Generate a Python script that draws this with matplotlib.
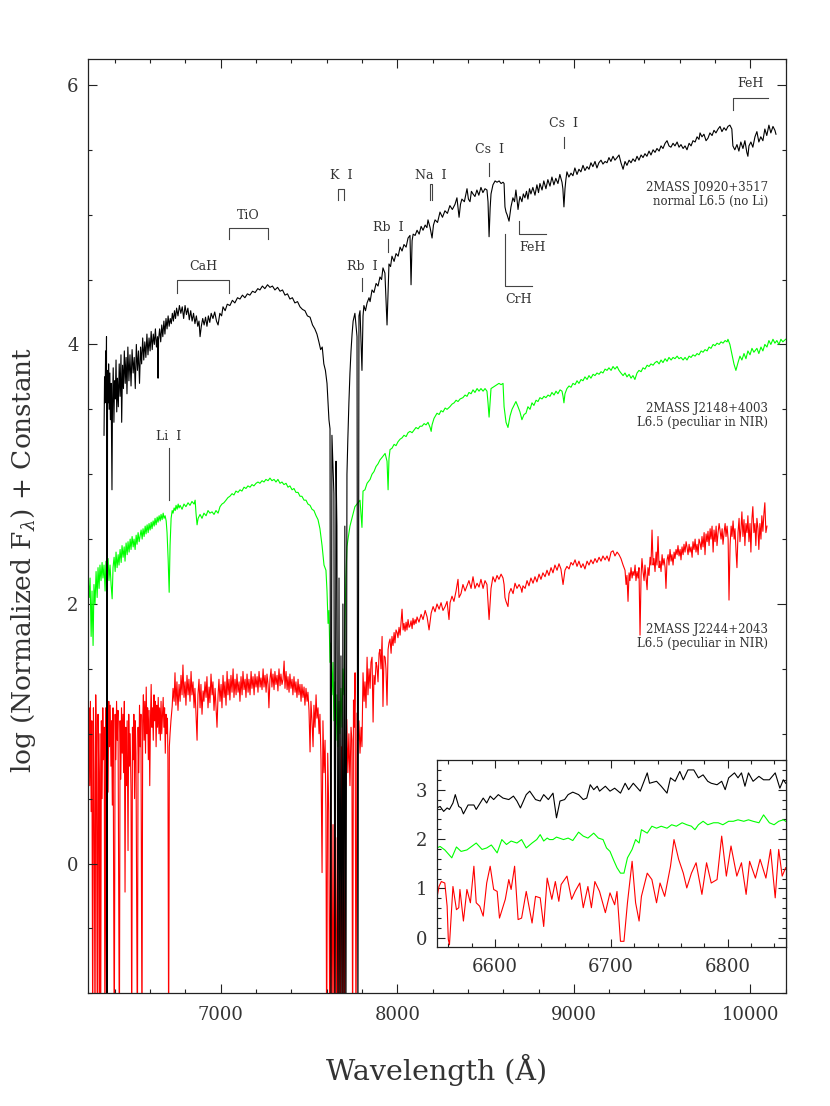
import numpy as np
import matplotlib
matplotlib.use("Agg")
import matplotlib.pyplot as plt
from matplotlib.ticker import MultipleLocator, FixedLocator

plt.rcParams['font.family'] = ['DejaVu Serif']
plt.rcParams['mathtext.fontset'] = 'dejavuserif'

# ---- spectra: (wavelength in A, log flux + offset) ----
black_pts = [
    (6339, 3.30), (6342, 3.75), (6345, 3.55), (6348, 3.95), (6351, 3.70), (6353, 4.06), (6356, -1.50), (6359, 3.80),
    (6362, 3.55), (6365, 3.85), (6368, 3.50), (6372, 3.78), (6375, 3.42), (6379, 3.70), (6384, 2.88), (6387, 3.55),
    (6391, 3.82), (6395, 3.40), (6399, 3.72), (6403, 3.58), (6407, 3.88), (6411, 3.48), (6415, 3.74), (6420, 3.52),
    (6425, 3.85), (6430, 3.60), (6435, 3.92), (6439, 3.40), (6444, 3.84), (6449, 3.66), (6454, 3.95), (6459, 3.70),
    (6464, 3.90), (6469, 3.62), (6474, 3.98), (6480, 3.72), (6486, 3.92), (6492, 3.68), (6498, 3.96), (6504, 3.78),
    (6510, 3.90), (6516, 3.66), (6522, 4.00), (6528, 3.80), (6534, 3.95), (6540, 3.70), (6546, 3.98), (6552, 3.85),
    (6558, 4.05), (6564, 3.88), (6570, 4.02), (6576, 3.90), (6582, 4.08), (6588, 3.92), (6594, 4.05), (6600, 3.95),
    (6606, 4.10), (6612, 3.96), (6618, 4.08), (6624, 4.00), (6630, 4.12), (6636, 3.98), (6642, 4.06), (6645, 3.74),
    (6648, 4.04), (6654, 4.12), (6660, 4.02), (6666, 4.15), (6672, 4.06), (6678, 4.18), (6684, 4.08), (6690, 4.20),
    (6696, 4.12), (6702, 4.22), (6708, 4.14), (6714, 4.20), (6720, 4.16), (6726, 4.24), (6732, 4.18), (6738, 4.26),
    (6744, 4.20), (6750, 4.28), (6758, 4.22), (6766, 4.30), (6774, 4.24), (6782, 4.29), (6790, 4.20), (6798, 4.30),
    (6806, 4.23), (6814, 4.28), (6822, 4.19), (6830, 4.26), (6838, 4.18), (6846, 4.24), (6854, 4.16), (6862, 4.22),
    (6870, 4.14), (6877, 4.18), (6883, 4.06), (6890, 4.14), (6898, 4.20), (6906, 4.15), (6914, 4.21), (6922, 4.14),
    (6930, 4.22), (6938, 4.17), (6946, 4.24), (6956, 4.20), (6966, 4.25), (6976, 4.18), (6985, 4.15), (6995, 4.24),
    (7005, 4.22), (7013, 4.29), (7025, 4.26), (7037, 4.31), (7052, 4.30), (7066, 4.34), (7080, 4.32), (7095, 4.36),
    (7109, 4.35), (7123, 4.38), (7137, 4.36), (7151, 4.39), (7165, 4.38), (7180, 4.41), (7195, 4.40), (7210, 4.43),
    (7222, 4.42), (7236, 4.45), (7250, 4.43), (7265, 4.46), (7279, 4.44), (7293, 4.45), (7307, 4.42), (7322, 4.44),
    (7336, 4.41), (7350, 4.42), (7364, 4.38), (7378, 4.39), (7392, 4.35), (7406, 4.36), (7420, 4.32), (7435, 4.33),
    (7449, 4.29), (7463, 4.27), (7477, 4.26), (7491, 4.22), (7506, 4.21), (7520, 4.15), (7533, 4.12), (7545, 4.08),
    (7556, 4.02), (7566, 3.96), (7575, 3.98), (7584, 3.85), (7593, 3.80), (7602, 3.70), (7608, 3.55), (7613, 3.42),
    (7619, 3.35), (7624, -1.50), (7630, 3.30), (7636, 3.05), (7641, 2.85), (7647, -1.50), (7653, 3.10), (7658, 2.60),
    (7664, -1.50), (7670, 2.20), (7675, -1.50), (7681, 1.60), (7687, -1.50), (7692, 2.00), (7698, -1.50), (7703, 2.60),
    (7709, -1.50), (7715, 3.00), (7720, 3.27), (7726, 3.55), (7732, 3.78), (7738, 3.95), (7744, 4.08), (7750, 4.18),
    (7760, 4.24), (7766, 4.15), (7772, 4.06), (7777, -1.50), (7783, 4.22), (7789, 4.26), (7800, 3.80), (7806, 4.22),
    (7811, 4.30), (7820, 4.26), (7829, 4.32), (7840, 4.36), (7846, 4.33), (7857, 4.42), (7868, 4.40), (7880, 4.47),
    (7891, 4.45), (7902, 4.52), (7911, 4.50), (7919, 4.59), (7930, 4.55), (7942, 4.15), (7953, 4.62), (7962, 4.60),
    (7970, 4.68), (7982, 4.64), (7993, 4.70), (8005, 4.68), (8016, 4.75), (8027, 4.72), (8038, 4.77), (8050, 4.75),
    (8061, 4.82), (8072, 4.84), (8078, 4.46), (8084, 4.80), (8090, 4.85), (8101, 4.84), (8112, 4.88), (8124, 4.85),
    (8135, 4.91), (8146, 4.88), (8158, 4.92), (8168, 4.90), (8174, 4.96), (8186, 4.90), (8197, 4.82), (8205, 4.92),
    (8214, 4.96), (8228, 4.94), (8242, 5.02), (8256, 4.98), (8270, 5.03), (8284, 5.01), (8298, 5.07), (8312, 5.04),
    (8327, 5.08), (8338, 5.13), (8350, 4.98), (8358, 5.08), (8366, 5.12), (8380, 5.10), (8395, 5.20), (8403, 5.12),
    (8412, 5.10), (8420, 5.18), (8429, 5.16), (8440, 5.14), (8451, 5.19), (8462, 5.15), (8474, 5.21), (8485, 5.17),
    (8497, 5.20), (8508, 5.19), (8514, 5.10), (8520, 4.83), (8526, 5.05), (8531, 5.16), (8542, 5.23), (8554, 5.26),
    (8565, 5.25), (8577, 5.26), (8588, 5.24), (8599, 5.25), (8605, 5.24), (8610, 5.06), (8616, 5.02), (8622, 5.00),
    (8633, 4.95), (8644, 5.06), (8655, 5.13), (8664, 5.10), (8672, 5.19), (8678, 5.12), (8684, 5.04), (8690, 5.10),
    (8695, 5.14), (8706, 5.10), (8714, 5.16), (8723, 5.13), (8732, 5.18), (8740, 5.12), (8749, 5.20), (8757, 5.16),
    (8768, 5.21), (8780, 5.15), (8791, 5.23), (8800, 5.17), (8808, 5.24), (8820, 5.19), (8830, 5.26), (8842, 5.20),
    (8853, 5.27), (8865, 5.22), (8876, 5.29), (8887, 5.23), (8898, 5.28), (8910, 5.24), (8921, 5.31), (8933, 5.25),
    (8938, 5.20), (8944, 5.06), (8950, 5.20), (8955, 5.27), (8961, 5.33), (8972, 5.29), (8984, 5.32), (8995, 5.30),
    (9006, 5.36), (9018, 5.31), (9029, 5.35), (9040, 5.33), (9052, 5.38), (9063, 5.34), (9075, 5.37), (9086, 5.35),
    (9097, 5.40), (9108, 5.37), (9120, 5.41), (9131, 5.36), (9142, 5.40), (9154, 5.42), (9165, 5.39), (9177, 5.41),
    (9188, 5.40), (9199, 5.44), (9210, 5.41), (9222, 5.45), (9233, 5.42), (9245, 5.44), (9256, 5.46), (9267, 5.40),
    (9279, 5.35), (9290, 5.41), (9301, 5.38), (9313, 5.42), (9324, 5.40), (9335, 5.43), (9347, 5.41), (9358, 5.45),
    (9369, 5.42), (9381, 5.46), (9392, 5.44), (9403, 5.47), (9414, 5.45), (9426, 5.49), (9437, 5.46), (9449, 5.50),
    (9460, 5.48), (9471, 5.51), (9483, 5.49), (9494, 5.53), (9505, 5.51), (9517, 5.55), (9528, 5.57), (9539, 5.53),
    (9550, 5.52), (9562, 5.55), (9573, 5.53), (9585, 5.56), (9596, 5.52), (9607, 5.54), (9619, 5.51), (9630, 5.53),
    (9641, 5.50), (9653, 5.55), (9664, 5.53), (9675, 5.57), (9687, 5.56), (9698, 5.60), (9709, 5.58), (9715, 5.63),
    (9726, 5.60), (9737, 5.62), (9749, 5.57), (9760, 5.59), (9771, 5.63), (9783, 5.61), (9794, 5.65), (9805, 5.63),
    (9817, 5.66), (9828, 5.68), (9839, 5.64), (9851, 5.67), (9862, 5.65), (9873, 5.68), (9884, 5.69), (9895, 5.66),
    (9901, 5.53), (9912, 5.50), (9924, 5.54), (9935, 5.49), (9946, 5.56), (9958, 5.51), (9969, 5.57), (9980, 5.48),
    (9986, 5.45), (9992, 5.53), (10003, 5.56), (10014, 5.52), (10026, 5.60), (10037, 5.64), (10048, 5.56), (10059, 5.60),
    (10071, 5.57), (10082, 5.66), (10093, 5.61), (10105, 5.69), (10116, 5.63), (10128, 5.68), (10139, 5.65), (10145, 5.62),
]

green_pts = [
    (6250, 2.17), (6255, 2.05), (6260, 2.20), (6266, 1.75), (6271, 2.10), (6277, 1.68), (6282, 2.15), (6288, 2.00),
    (6294, 2.25), (6300, 2.05), (6305, 2.28), (6311, 2.12), (6316, 2.30), (6322, 2.18), (6328, 2.32), (6333, 2.20),
    (6339, 2.30), (6345, 2.10), (6350, 2.33), (6356, 2.22), (6362, 2.35), (6367, 2.18), (6373, 2.30), (6379, 2.15),
    (6385, 2.04), (6390, 2.28), (6396, 2.36), (6402, 2.25), (6407, 2.40), (6413, 2.28), (6419, 2.38), (6424, 2.30),
    (6430, 2.42), (6436, 2.32), (6441, 2.45), (6447, 2.36), (6453, 2.44), (6458, 2.33), (6464, 2.47), (6470, 2.38),
    (6475, 2.48), (6481, 2.40), (6487, 2.50), (6492, 2.42), (6498, 2.52), (6504, 2.44), (6509, 2.50), (6515, 2.42),
    (6521, 2.53), (6526, 2.46), (6532, 2.55), (6538, 2.48), (6543, 2.52), (6549, 2.57), (6555, 2.50), (6560, 2.58),
    (6566, 2.52), (6572, 2.60), (6577, 2.54), (6583, 2.61), (6589, 2.55), (6594, 2.62), (6600, 2.57), (6606, 2.63),
    (6611, 2.58), (6617, 2.64), (6623, 2.60), (6628, 2.66), (6634, 2.61), (6640, 2.67), (6645, 2.63), (6651, 2.68),
    (6657, 2.64), (6662, 2.69), (6668, 2.65), (6674, 2.70), (6679, 2.66), (6685, 2.68), (6691, 2.64), (6696, 2.55),
    (6702, 2.35), (6708, 2.09), (6713, 2.45), (6719, 2.66), (6725, 2.72), (6730, 2.70), (6736, 2.74), (6742, 2.72),
    (6747, 2.76), (6753, 2.73), (6759, 2.77), (6764, 2.74), (6770, 2.76), (6781, 2.73), (6792, 2.77), (6803, 2.75),
    (6815, 2.78), (6826, 2.76), (6837, 2.79), (6849, 2.77), (6855, 2.80), (6860, 2.70), (6866, 2.61), (6872, 2.66),
    (6883, 2.69), (6894, 2.66), (6905, 2.70), (6917, 2.68), (6928, 2.72), (6939, 2.70), (6951, 2.71), (6962, 2.69),
    (6973, 2.72), (6985, 2.70), (6996, 2.75), (7007, 2.77), (7018, 2.78), (7030, 2.80), (7041, 2.82), (7052, 2.83),
    (7064, 2.85), (7075, 2.84), (7086, 2.87), (7098, 2.86), (7109, 2.88), (7120, 2.87), (7132, 2.90), (7143, 2.89),
    (7154, 2.91), (7166, 2.90), (7177, 2.92), (7188, 2.91), (7200, 2.93), (7211, 2.94), (7222, 2.93), (7234, 2.95),
    (7245, 2.94), (7256, 2.96), (7268, 2.95), (7279, 2.97), (7290, 2.95), (7302, 2.96), (7313, 2.94), (7324, 2.96),
    (7336, 2.93), (7347, 2.94), (7358, 2.92), (7370, 2.93), (7381, 2.90), (7392, 2.91), (7404, 2.88), (7415, 2.89),
    (7426, 2.86), (7438, 2.86), (7449, 2.83), (7460, 2.83), (7472, 2.80), (7483, 2.80), (7494, 2.77), (7506, 2.76),
    (7517, 2.73), (7528, 2.72), (7540, 2.68), (7551, 2.65), (7562, 2.58), (7574, 2.45), (7585, 2.30), (7596, 2.26),
    (7602, 2.10), (7608, 1.85), (7613, 1.95), (7619, 1.55), (7624, 1.70), (7630, 1.30), (7636, 1.55), (7641, 1.10),
    (7647, 1.40), (7653, 0.95), (7658, 1.30), (7664, 0.90), (7670, 1.25), (7675, 1.00), (7681, 1.35), (7687, 1.05),
    (7692, 1.50), (7698, 1.30), (7703, 1.80), (7709, 2.20), (7715, 2.44), (7721, 2.50), (7732, 2.60), (7743, 2.66),
    (7760, 2.75), (7772, 2.77), (7789, 2.80), (7800, 2.59), (7806, 2.87), (7817, 2.88), (7829, 2.93), (7846, 2.96),
    (7857, 3.00), (7868, 3.02), (7880, 3.06), (7891, 3.08), (7902, 3.11), (7914, 3.13), (7931, 3.16), (7942, 3.10),
    (7948, 2.88), (7953, 3.12), (7959, 3.19), (7970, 3.20), (7982, 3.23), (7993, 3.22), (8004, 3.25), (8016, 3.27),
    (8027, 3.28), (8038, 3.30), (8050, 3.29), (8061, 3.32), (8072, 3.33), (8084, 3.32), (8095, 3.34), (8106, 3.36),
    (8118, 3.35), (8129, 3.37), (8140, 3.37), (8152, 3.39), (8163, 3.38), (8174, 3.40), (8186, 3.36), (8192, 3.33),
    (8197, 3.38), (8208, 3.43), (8225, 3.47), (8237, 3.46), (8248, 3.49), (8259, 3.48), (8271, 3.51), (8282, 3.50),
    (8298, 3.52), (8310, 3.54), (8322, 3.55), (8333, 3.57), (8344, 3.56), (8356, 3.58), (8372, 3.59), (8384, 3.61),
    (8395, 3.60), (8406, 3.63), (8418, 3.62), (8429, 3.65), (8440, 3.63), (8452, 3.66), (8463, 3.64), (8474, 3.66),
    (8486, 3.64), (8497, 3.66), (8508, 3.64), (8514, 3.55), (8520, 3.44), (8526, 3.56), (8531, 3.66), (8542, 3.67),
    (8554, 3.68), (8565, 3.69), (8576, 3.70), (8588, 3.69), (8599, 3.70), (8605, 3.52), (8616, 3.40), (8627, 3.36),
    (8639, 3.45), (8650, 3.50), (8661, 3.53), (8672, 3.56), (8684, 3.52), (8695, 3.48), (8706, 3.42), (8718, 3.46),
    (8729, 3.47), (8740, 3.52), (8752, 3.50), (8763, 3.55), (8774, 3.53), (8786, 3.57), (8797, 3.56), (8808, 3.59),
    (8820, 3.58), (8831, 3.60), (8842, 3.59), (8854, 3.61), (8865, 3.60), (8876, 3.63), (8888, 3.61), (8899, 3.64),
    (8910, 3.62), (8922, 3.65), (8933, 3.64), (8939, 3.60), (8944, 3.55), (8950, 3.62), (8961, 3.66), (8973, 3.68),
    (8984, 3.67), (8995, 3.70), (9007, 3.69), (9018, 3.72), (9029, 3.70), (9041, 3.73), (9052, 3.72), (9063, 3.75),
    (9075, 3.73), (9086, 3.76), (9097, 3.74), (9109, 3.77), (9120, 3.76), (9131, 3.78), (9143, 3.77), (9154, 3.79),
    (9165, 3.78), (9177, 3.81), (9188, 3.80), (9199, 3.82), (9211, 3.80), (9222, 3.83), (9233, 3.81), (9245, 3.83),
    (9256, 3.80), (9267, 3.78), (9279, 3.76), (9290, 3.78), (9301, 3.75), (9313, 3.77), (9324, 3.74), (9335, 3.76),
    (9346, 3.73), (9358, 3.78), (9369, 3.80), (9381, 3.79), (9392, 3.82), (9403, 3.81), (9415, 3.84), (9426, 3.83),
    (9437, 3.85), (9449, 3.84), (9460, 3.86), (9471, 3.87), (9483, 3.85), (9494, 3.88), (9505, 3.86), (9517, 3.89),
    (9528, 3.87), (9539, 3.90), (9551, 3.88), (9562, 3.90), (9573, 3.89), (9585, 3.91), (9596, 3.89), (9607, 3.90),
    (9619, 3.88), (9630, 3.90), (9641, 3.88), (9653, 3.91), (9664, 3.90), (9675, 3.92), (9687, 3.91), (9698, 3.93),
    (9709, 3.92), (9721, 3.95), (9732, 3.94), (9743, 3.96), (9755, 3.95), (9766, 3.98), (9777, 3.97), (9789, 4.00),
    (9800, 3.99), (9811, 4.01), (9823, 4.00), (9834, 4.02), (9845, 4.01), (9857, 4.03), (9868, 4.02), (9873, 4.04),
    (9884, 4.00), (9896, 3.92), (9907, 3.85), (9918, 3.80), (9930, 3.86), (9941, 3.91), (9952, 3.88), (9964, 3.93),
    (9975, 3.89), (9986, 3.95), (9998, 3.92), (10009, 3.97), (10020, 3.94), (10037, 3.97), (10048, 3.93), (10060, 3.98),
    (10071, 3.95), (10082, 4.00), (10094, 3.98), (10105, 4.03), (10116, 4.00), (10128, 4.04), (10139, 4.01), (10150, 4.03),
    (10162, 4.00), (10173, 4.04), (10184, 4.02), (10200, 4.04),
]

red_pts = [
    (6250, 0.90), (6254, 1.20), (6258, 0.60), (6262, 1.25), (6266, 0.40), (6270, 1.10), (6275, -1.50), (6279, 1.20),
    (6283, 0.70), (6288, -1.50), (6292, 1.30), (6296, 0.85), (6301, -1.50), (6305, 1.15), (6309, 0.70), (6312, -1.50),
    (6316, 1.00), (6320, -1.50), (6324, 1.10), (6328, 0.50), (6332, 1.20), (6336, 0.80), (6340, 1.05), (6344, -1.50),
    (6348, 1.20), (6354, -1.50), (6358, 1.15), (6362, 0.55), (6366, 1.25), (6370, 0.90), (6374, 1.22), (6378, 0.75),
    (6382, 1.10), (6386, 0.45), (6390, 1.20), (6397, -1.50), (6402, 1.15), (6406, 0.80), (6410, 1.25), (6414, 0.95),
    (6418, 1.18), (6426, -1.50), (6430, 1.10), (6434, 0.65), (6438, 1.20), (6442, 0.85), (6446, 1.15), (6450, 0.70),
    (6454, 1.25), (6458, -0.22), (6462, 1.05), (6466, 0.60), (6470, 1.10), (6475, 0.10), (6479, 1.15), (6483, 0.75),
    (6487, 1.00), (6492, 0.55), (6496, -1.50), (6500, 1.05), (6504, 0.80), (6508, 1.15), (6512, 0.50), (6516, 1.10),
    (6520, 0.85), (6528, -1.50), (6532, 1.05), (6536, 0.70), (6540, 1.22), (6544, 0.90), (6548, 1.15), (6554, -1.50),
    (6558, 1.10), (6562, 1.30), (6566, 0.95), (6570, 1.25), (6574, 0.85), (6578, 1.36), (6582, 1.00), (6586, 1.20),
    (6590, 0.80), (6594, 1.18), (6598, 0.60), (6602, 1.10), (6606, 1.38), (6610, 1.05), (6614, 1.20), (6618, 0.95),
    (6622, 1.30), (6626, 1.10), (6630, 1.25), (6634, 0.90), (6638, 1.22), (6642, 1.05), (6646, 1.28), (6650, 1.00),
    (6654, 1.20), (6658, 0.95), (6662, 1.25), (6666, 1.00), (6670, 1.15), (6674, 1.28), (6678, 1.05), (6682, 1.20),
    (6686, 0.85), (6690, 1.15), (6694, 1.00), (6698, 1.12), (6701, 0.80), (6705, -1.50), (6709, 0.90), (6713, 1.00),
    (6718, 1.10), (6725, 1.21), (6730, 1.35), (6736, 1.25), (6741, 1.47), (6746, 1.22), (6752, 1.40), (6758, 1.18),
    (6764, 1.38), (6770, 1.25), (6775, 1.45), (6781, 1.30), (6786, 1.53), (6792, 1.28), (6798, 1.40), (6803, 1.22),
    (6809, 1.45), (6815, 1.30), (6820, 1.42), (6826, 1.25), (6832, 1.48), (6837, 1.30), (6843, 1.40), (6849, 1.20),
    (6854, 1.35), (6860, 1.15), (6866, 0.95), (6871, 1.30), (6877, 1.42), (6883, 1.20), (6888, 1.38), (6894, 1.15),
    (6900, 1.33), (6905, 1.25), (6911, 1.40), (6917, 1.28), (6922, 1.44), (6928, 1.20), (6934, 1.36), (6939, 1.24),
    (6945, 1.46), (6951, 1.30), (6956, 1.40), (6962, 1.18), (6968, 1.35), (6973, 1.22), (6979, 1.05), (6985, 1.30),
    (6990, 1.42), (6996, 1.25), (7002, 1.38), (7007, 1.20), (7013, 1.45), (7019, 1.28), (7024, 1.40), (7030, 1.22),
    (7036, 1.48), (7041, 1.30), (7047, 1.42), (7052, 1.26), (7058, 1.45), (7064, 1.32), (7070, 1.50), (7075, 1.28),
    (7081, 1.42), (7087, 1.30), (7092, 1.46), (7098, 1.32), (7104, 1.40), (7109, 1.25), (7115, 1.44), (7121, 1.30),
    (7126, 1.48), (7132, 1.34), (7138, 1.42), (7143, 1.28), (7149, 1.46), (7155, 1.32), (7160, 1.42), (7166, 1.30),
    (7172, 1.48), (7177, 1.35), (7183, 1.44), (7189, 1.30), (7194, 1.46), (7200, 1.36), (7206, 1.44), (7211, 1.32),
    (7217, 1.48), (7223, 1.36), (7228, 1.43), (7234, 1.34), (7240, 1.50), (7245, 1.36), (7251, 1.45), (7257, 1.32),
    (7262, 1.46), (7268, 1.38), (7273, 1.20), (7279, 1.42), (7285, 1.50), (7290, 1.36), (7296, 1.46), (7302, 1.34),
    (7307, 1.48), (7313, 1.38), (7319, 1.45), (7324, 1.33), (7330, 1.50), (7336, 1.37), (7341, 1.46), (7347, 1.38),
    (7353, 1.42), (7359, 1.56), (7364, 1.35), (7370, 1.48), (7376, 1.34), (7381, 1.44), (7387, 1.32), (7392, 1.46),
    (7398, 1.35), (7404, 1.42), (7409, 1.30), (7415, 1.44), (7421, 1.32), (7426, 1.40), (7432, 1.28), (7438, 1.42),
    (7443, 1.30), (7449, 1.38), (7455, 1.25), (7460, 1.38), (7466, 1.28), (7472, 1.36), (7477, 1.22), (7483, 1.35),
    (7489, 1.25), (7494, 1.32), (7500, 1.18), (7506, 0.86), (7511, 1.25), (7517, 1.10), (7523, 0.90), (7528, 1.22),
    (7534, 1.05), (7540, 1.30), (7545, 1.12), (7551, 1.20), (7557, 1.00), (7562, 1.15), (7568, 0.80), (7574, -0.07),
    (7579, 1.10), (7585, 0.70), (7591, 0.95), (7596, 0.40), (7600, -1.50), (7606, 0.85), (7612, 0.40), (7618, -1.50),
    (7624, 0.70), (7630, -1.50), (7636, 0.30), (7642, -1.50), (7648, 0.60), (7654, -1.50), (7660, 0.20), (7666, -1.50),
    (7672, 0.50), (7678, -1.50), (7684, 0.90), (7690, -1.50), (7696, 0.40), (7702, -1.50), (7708, 0.80), (7714, 1.11),
    (7720, 0.70), (7726, 1.00), (7732, 0.60), (7738, 1.05), (7743, 0.95), (7747, -1.50), (7752, 1.26), (7756, 1.05),
    (7761, 1.47), (7766, -1.50), (7772, 1.16), (7778, 0.95), (7783, 1.10), (7789, 0.85), (7795, 1.05), (7800, 0.90),
    (7806, 1.47), (7812, 1.25), (7817, 1.40), (7823, 1.20), (7829, 1.59), (7834, 1.30), (7840, 1.50), (7846, 1.35),
    (7851, 1.55), (7857, 1.59), (7863, 1.09), (7868, 1.45), (7874, 1.38), (7880, 1.55), (7885, 1.52), (7891, 1.40),
    (7897, 1.62), (7902, 1.65), (7908, 1.50), (7914, 1.75), (7919, 1.21), (7925, 1.60), (7931, 1.59), (7936, 1.50),
    (7942, 1.22), (7948, 1.65), (7953, 1.70), (7959, 1.73), (7965, 1.62), (7970, 1.75), (7976, 1.68), (7982, 1.78),
    (7987, 1.70), (7993, 1.80), (7999, 1.78), (8004, 1.74), (8010, 1.82), (8016, 1.76), (8021, 1.85), (8027, 1.96),
    (8033, 1.80), (8038, 1.85), (8044, 1.79), (8050, 1.86), (8055, 1.80), (8061, 1.88), (8067, 1.82), (8072, 1.83),
    (8078, 1.87), (8084, 1.81), (8089, 1.89), (8095, 1.84), (8101, 1.88), (8106, 1.85), (8112, 1.90), (8123, 1.86),
    (8135, 1.92), (8146, 1.88), (8158, 1.95), (8169, 1.90), (8180, 1.80), (8192, 1.93), (8203, 1.98), (8214, 1.94),
    (8225, 2.00), (8237, 1.96), (8248, 2.01), (8259, 1.95), (8271, 1.98), (8282, 2.02), (8293, 1.88), (8299, 2.01),
    (8310, 2.06), (8321, 2.02), (8333, 2.10), (8344, 2.19), (8350, 2.05), (8361, 2.08), (8372, 2.15), (8384, 2.10),
    (8395, 2.14), (8406, 2.18), (8418, 2.12), (8429, 2.21), (8440, 2.12), (8452, 2.16), (8463, 2.13), (8474, 2.19),
    (8486, 2.12), (8497, 2.18), (8508, 2.15), (8520, 1.88), (8531, 2.12), (8542, 2.21), (8554, 2.17), (8565, 2.22),
    (8576, 2.19), (8588, 2.23), (8599, 2.20), (8605, 2.15), (8610, 2.05), (8616, 2.02), (8627, 1.98), (8633, 2.08),
    (8644, 2.12), (8656, 2.08), (8667, 2.16), (8678, 2.12), (8690, 2.15), (8701, 2.12), (8706, 2.09), (8712, 2.14),
    (8724, 2.12), (8735, 2.18), (8746, 2.14), (8757, 2.20), (8769, 2.16), (8780, 2.21), (8791, 2.17), (8803, 2.23),
    (8814, 2.19), (8825, 2.24), (8837, 2.21), (8848, 2.26), (8859, 2.22), (8871, 2.28), (8882, 2.24), (8893, 2.30),
    (8905, 2.26), (8916, 2.31), (8927, 2.27), (8939, 2.15), (8944, 2.20), (8950, 2.26), (8961, 2.29), (8973, 2.27),
    (8984, 2.32), (8995, 2.30), (9007, 2.34), (9018, 2.29), (9029, 2.33), (9041, 2.28), (9052, 2.31), (9063, 2.27),
    (9075, 2.33), (9086, 2.30), (9097, 2.34), (9109, 2.31), (9120, 2.35), (9131, 2.32), (9143, 2.36), (9154, 2.33),
    (9165, 2.37), (9177, 2.34), (9188, 2.37), (9199, 2.33), (9211, 2.40), (9222, 2.41), (9233, 2.37), (9245, 2.40),
    (9256, 2.38), (9267, 2.35), (9279, 2.30), (9290, 2.26), (9296, 2.15), (9301, 2.22), (9307, 2.02), (9313, 2.24),
    (9318, 2.18), (9324, 2.28), (9330, 2.20), (9335, 2.25), (9341, 2.22), (9347, 2.30), (9352, 2.18), (9358, 2.25),
    (9364, 2.20), (9369, 2.28), (9375, 1.76), (9381, 2.22), (9386, 2.35), (9392, 2.25), (9398, 2.18), (9403, 2.30),
    (9409, 2.20), (9415, 2.11), (9420, 2.28), (9426, 2.22), (9432, 2.36), (9437, 2.30), (9443, 2.57), (9449, 2.30),
    (9454, 2.35), (9460, 2.25), (9466, 2.40), (9471, 2.30), (9477, 2.52), (9483, 2.28), (9488, 2.33), (9494, 2.25),
    (9500, 2.38), (9505, 2.30), (9511, 2.35), (9517, 2.28), (9522, 2.12), (9528, 2.34), (9534, 2.38), (9539, 2.30),
    (9545, 2.42), (9551, 2.33), (9556, 2.38), (9562, 2.30), (9568, 2.40), (9573, 2.35), (9579, 2.42), (9585, 2.38),
    (9590, 2.45), (9596, 2.37), (9602, 2.42), (9607, 2.34), (9613, 2.44), (9619, 2.38), (9624, 2.46), (9630, 2.40),
    (9636, 2.48), (9641, 2.44), (9647, 2.38), (9653, 2.46), (9658, 2.40), (9664, 2.44), (9670, 2.36), (9675, 2.48),
    (9681, 2.42), (9687, 2.50), (9692, 2.40), (9698, 2.46), (9704, 2.38), (9709, 2.50), (9715, 2.47), (9721, 2.42),
    (9726, 2.52), (9732, 2.44), (9738, 2.55), (9743, 2.38), (9749, 2.54), (9755, 2.48), (9760, 2.56), (9766, 2.45),
    (9772, 2.58), (9777, 2.50), (9783, 2.60), (9789, 2.40), (9794, 2.57), (9800, 2.48), (9806, 2.60), (9811, 2.45),
    (9817, 2.55), (9823, 2.62), (9828, 2.57), (9834, 2.50), (9840, 2.58), (9845, 2.46), (9851, 2.55), (9857, 2.62),
    (9862, 2.52), (9868, 2.60), (9874, 2.50), (9879, 2.03), (9885, 2.45), (9891, 2.60), (9896, 2.52), (9902, 2.64),
    (9908, 2.50), (9913, 2.58), (9919, 2.40), (9924, 2.28), (9930, 2.55), (9936, 2.66), (9941, 2.48), (9947, 2.58),
    (9952, 2.71), (9958, 2.52), (9964, 2.65), (9969, 2.45), (9975, 2.62), (9981, 2.55), (9986, 2.68), (9992, 2.48),
    (9998, 2.62), (10003, 2.40), (10009, 2.66), (10014, 2.75), (10020, 2.55), (10026, 2.62), (10031, 2.45), (10037, 2.66),
    (10043, 2.58), (10048, 2.42), (10054, 2.62), (10060, 2.50), (10065, 2.68), (10071, 2.56), (10077, 2.70), (10082, 2.78),
    (10088, 2.55), (10094, 2.60),
]

# ---- zoom on the Li I region (inset) ----
inset_black = [
    (6550, 2.63), (6553, 2.66), (6556, 2.56), (6559, 2.63), (6561, 2.60), (6564, 2.73), (6566, 2.90), (6569, 2.66),
    (6571, 2.63), (6573, 2.51), (6577, 2.69), (6582, 2.69), (6584, 2.60), (6590, 2.83), (6593, 2.73), (6596, 2.87),
    (6599, 2.80), (6603, 2.90), (6607, 2.83), (6612, 2.80), (6616, 2.87), (6619, 2.77), (6622, 2.63), (6627, 2.90),
    (6630, 2.97), (6635, 2.80), (6639, 2.77), (6642, 2.90), (6646, 2.80), (6650, 2.93), (6653, 2.43), (6656, 2.77),
    (6660, 2.80), (6663, 2.90), (6667, 2.95), (6672, 2.90), (6676, 2.80), (6679, 2.83), (6682, 3.10), (6685, 3.00),
    (6688, 3.07), (6690, 2.97), (6695, 3.07), (6699, 2.97), (6703, 3.03), (6708, 2.93), (6712, 3.13), (6715, 3.00),
    (6719, 3.13), (6725, 2.97), (6731, 3.34), (6733, 3.13), (6739, 3.17), (6743, 3.07), (6748, 2.93), (6751, 3.24),
    (6755, 3.17), (6759, 3.37), (6762, 3.20), (6766, 3.40), (6771, 3.40), (6775, 3.24), (6779, 3.30), (6783, 3.17),
    (6786, 3.13), (6791, 3.10), (6795, 3.17), (6798, 3.00), (6801, 3.24), (6806, 3.34), (6809, 3.24), (6812, 3.34),
    (6815, 3.07), (6818, 3.34), (6822, 3.17), (6827, 3.27), (6831, 3.20), (6836, 3.20), (6841, 3.34), (6845, 3.03),
    (6848, 3.20), (6850, 3.13),
]

inset_green = [
    (6550, 1.82), (6553, 1.85), (6557, 1.78), (6563, 1.62), (6567, 1.84), (6571, 1.75), (6576, 1.78), (6580, 1.85),
    (6584, 1.92), (6589, 1.79), (6593, 1.82), (6597, 1.88), (6602, 1.72), (6606, 1.99), (6610, 1.89), (6614, 1.96),
    (6619, 1.92), (6623, 1.99), (6627, 1.82), (6632, 1.92), (6636, 1.99), (6639, 2.09), (6642, 1.96), (6645, 2.02),
    (6647, 1.99), (6650, 1.99), (6653, 2.04), (6659, 1.99), (6663, 2.02), (6667, 1.97), (6672, 2.14), (6676, 2.06),
    (6680, 2.02), (6685, 2.12), (6689, 2.02), (6693, 1.99), (6696, 1.82), (6699, 1.75), (6702, 1.58), (6705, 1.42),
    (6708, 1.31), (6711, 1.31), (6714, 1.62), (6718, 1.79), (6721, 1.99), (6724, 1.92), (6726, 2.19), (6731, 2.12),
    (6735, 2.26), (6739, 2.22), (6743, 2.26), (6748, 2.22), (6752, 2.29), (6756, 2.26), (6761, 2.33), (6765, 2.29),
    (6769, 2.26), (6772, 2.19), (6775, 2.29), (6779, 2.36), (6783, 2.29), (6788, 2.33), (6792, 2.33), (6796, 2.29),
    (6801, 2.36), (6805, 2.36), (6809, 2.39), (6814, 2.36), (6818, 2.39), (6822, 2.36), (6827, 2.33), (6831, 2.49),
    (6836, 2.33), (6840, 2.29), (6844, 2.36), (6848, 2.39), (6850, 2.36),
]

inset_red = [
    (6550, 0.78), (6552, 1.04), (6554, 1.14), (6557, 1.11), (6559, 0.64), (6560, -0.03), (6561, -0.14), (6564, 1.04),
    (6567, 0.57), (6569, 0.61), (6570, 0.98), (6573, 0.34), (6576, 0.98), (6579, 0.71), (6582, 1.45), (6584, 0.71),
    (6587, 0.64), (6590, 0.44), (6593, 1.11), (6596, 1.45), (6599, 0.98), (6602, 0.94), (6604, 0.40), (6609, 0.78),
    (6612, 1.18), (6614, 0.98), (6617, 1.45), (6620, 0.37), (6623, 0.40), (6627, 0.94), (6632, 0.30), (6635, 0.84),
    (6639, 0.81), (6642, 0.23), (6645, 1.21), (6649, 0.78), (6652, 1.14), (6655, 0.74), (6657, 1.08), (6662, 1.25),
    (6666, 0.78), (6669, 0.94), (6673, 1.11), (6676, 0.61), (6680, 1.04), (6683, 0.61), (6686, 1.14), (6690, 0.94),
    (6695, 0.51), (6699, 0.91), (6703, 0.67), (6705, 0.94), (6708, -0.07), (6711, -0.07), (6714, 0.71), (6718, 1.55),
    (6721, 0.71), (6724, 0.34), (6726, 0.84), (6731, 1.31), (6735, 1.18), (6739, 0.71), (6742, 1.11), (6746, 0.84),
    (6751, 1.45), (6754, 1.99), (6758, 1.59), (6762, 1.31), (6765, 1.01), (6769, 1.31), (6773, 1.52), (6778, 0.88),
    (6782, 1.52), (6786, 1.11), (6791, 1.18), (6795, 2.06), (6799, 1.25), (6803, 1.86), (6808, 1.25), (6812, 1.52),
    (6816, 0.88), (6819, 1.55), (6824, 1.21), (6828, 1.59), (6833, 1.21), (6837, 1.79), (6841, 0.81), (6844, 1.79),
    (6847, 1.25), (6850, 1.42),
]

names = ["2MASS J0920+3517\nnormal L6.5 (no Li)",
         "2MASS J2148+4003\nL6.5 (peculiar in NIR)",
         "2MASS J2244+2043\nL6.5 (peculiar in NIR)"]
colors = ["black", "#00ff00", "#ff0000"]
txt = "#333333"

black = np.array(black_pts).T
green = np.array(green_pts).T
red = np.array(red_pts).T

fig = plt.figure(figsize=(8.3, 11.06), dpi=100)
ax = fig.add_axes([0.1064, 0.1019, 0.8402, 0.8448])

ax.plot(red[0], red[1], color=colors[2], lw=0.8, zorder=1)
ax.plot(green[0], green[1], color=colors[1], lw=0.8, zorder=2)
ax.plot(black[0], black[1], color=colors[0], lw=0.8, zorder=3)

ax.set_xlim(6250, 10200)
ax.set_ylim(-1, 6.2)
ax.xaxis.set_major_locator(FixedLocator([7000, 8000, 9000, 10000]))
ax.xaxis.set_minor_locator(MultipleLocator(200))
ax.yaxis.set_major_locator(FixedLocator([0, 2, 4, 6]))
ax.yaxis.set_minor_locator(MultipleLocator(0.5))

ax.tick_params(which='both', direction='in', top=True, right=True, colors='#222222', labelcolor=txt)
ax.tick_params(which='major', length=6.5, width=0.8, labelsize=13)
ax.tick_params(which='minor', length=3, width=0.8)
ax.tick_params(axis='x', pad=9)
ax.tick_params(axis='y', pad=7)
for s in ax.spines.values():
    s.set_linewidth(0.9)
    s.set_color('#222222')

# object names
name_y = [5.155, 3.45, 1.75]
for nm, yy in zip(names, name_y):
    ax.text(10100, yy, nm, ha='right', va='center', fontsize=8.5, color=txt,
            multialignment='right', linespacing=1.1)

lc = '#444444'
fs = 9
# single tick marks: (label, x, top, bottom, label_y)
ticks = [("Rb  I", 7800, 4.51, 4.41, 4.60), ("Rb  I", 7947, 4.81, 4.71, 4.90),
         ("Cs  I", 8520, 5.40, 5.30, 5.50), ("Cs  I", 8944, 5.60, 5.51, 5.70),
         ("Li  I", 6705, 3.20, 2.80, 3.29)]
for lab, x, y0, y1, ly in ticks:
    ax.plot([x, x], [y0, y1], color=lc, lw=0.8)
    ax.text(x, ly, lab, ha='center', va='center', fontsize=fs, color=txt)

# bracket features: (label, x0, x1, top, leg, label_y)
brackets = [("CaH", 6751, 7049, 4.50, 4.40, 4.60), ("TiO", 7047, 7268, 4.90, 4.81, 4.99),
            ("K  I", 7662, 7700, 5.20, 5.11, 5.30), ("Na  I", 8183, 8195, 5.24, 5.11, 5.30)]
for lab, x0, x1, top, leg, ly in brackets:
    ax.plot([x0, x0, x1, x1], [leg, top, top, leg], color=lc, lw=0.8)
    ax.text((x0 + x1) / 2, ly, lab, ha='center', va='center', fontsize=fs, color=txt)

# FeH at the red end: left leg only
ax.plot([9901, 9901, 10100], [5.81, 5.90, 5.90], color=lc, lw=0.8)
ax.text(10003, 6.01, "FeH", ha='center', va='center', fontsize=fs, color=txt)
# CrH and FeH hooks
ax.plot([8612, 8612, 8761], [4.85, 4.45, 4.45], color=lc, lw=0.8)
ax.text(8685, 4.35, "CrH", ha='center', va='center', fontsize=fs, color=txt)
ax.plot([8691, 8691, 8842], [4.95, 4.85, 4.85], color=lc, lw=0.8)
ax.text(8765, 4.75, "FeH", ha='center', va='center', fontsize=fs, color=txt)

fig.text(437 / 830, 1 - 1070 / 1106, "Wavelength (Å)", ha='center', va='center',
         fontsize=20.5, color=txt)
fig.text(24 / 830, 1 - 560 / 1106, r"log (Normalized F$_{\lambda}$) + Constant", ha='center',
         va='center', rotation=90, fontsize=19, color=txt)

# inset
axi = fig.add_axes([0.5261, 0.1440, 0.4205, 0.1688])
axi.set_facecolor('white')
for pts, c in zip([inset_red, inset_green, inset_black], colors[::-1]):
    arr = np.array(pts).T
    axi.plot(arr[0], arr[1], color=c, lw=0.8)
axi.set_xlim(6550, 6850)
axi.set_ylim(-0.18, 3.6)
axi.xaxis.set_major_locator(MultipleLocator(100))
axi.xaxis.set_minor_locator(MultipleLocator(20))
axi.yaxis.set_major_locator(MultipleLocator(1))
axi.yaxis.set_minor_locator(MultipleLocator(0.2))
axi.tick_params(which='both', direction='in', top=True, right=True, colors='#222222', labelcolor=txt)
axi.tick_params(which='major', length=6, width=0.8, labelsize=13)
axi.tick_params(which='minor', length=3, width=0.8)
axi.tick_params(axis='x', pad=8)
axi.tick_params(axis='y', pad=7)
for s in axi.spines.values():
    s.set_linewidth(0.9)
    s.set_color('#222222')

fig.savefig("out.png", dpi=100)
